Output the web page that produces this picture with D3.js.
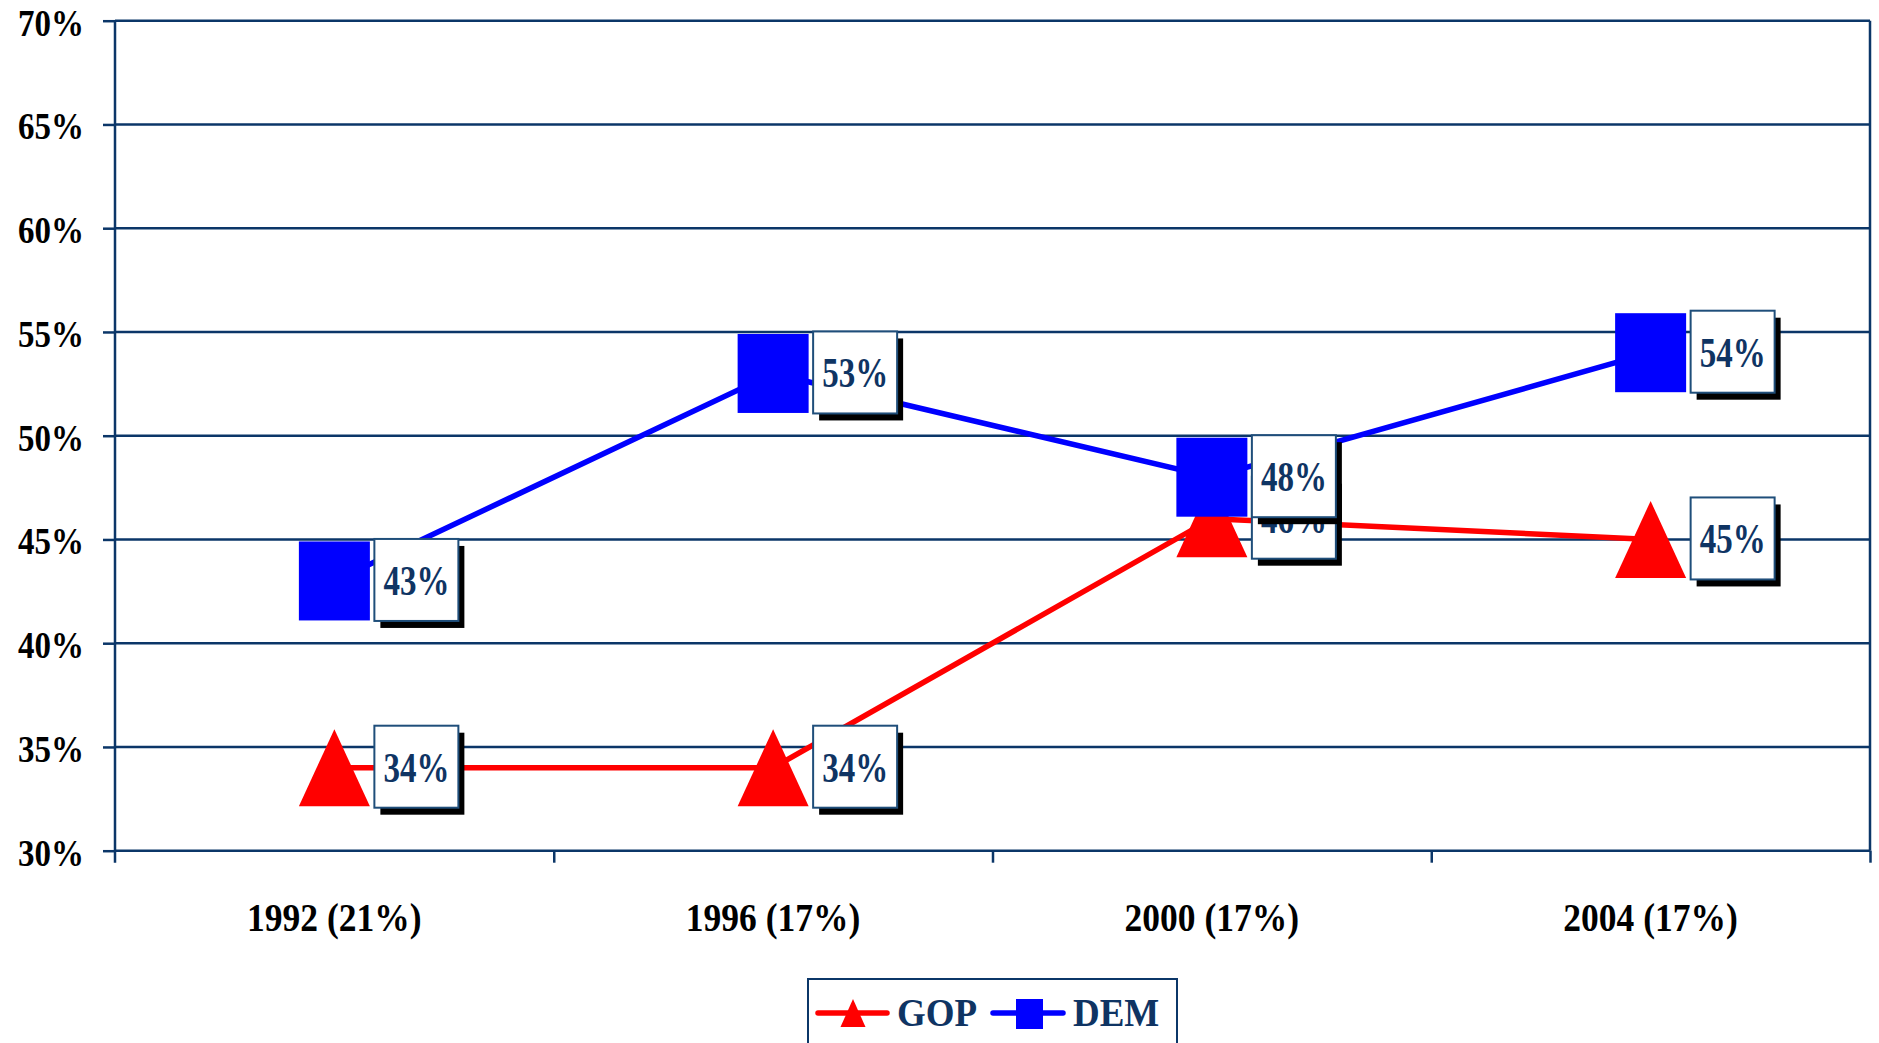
<!DOCTYPE html>
<html>
<head>
<meta charset="utf-8">
<script src="https://cdn.jsdelivr.net/npm/d3@7"></script>
<style>
  html, body { margin: 0; padding: 0; background: #fff; overflow: hidden; }
  text { font-family: "Liberation Serif", "Times New Roman", serif; font-weight: bold; }
</style>
</head>
<body>
<div id="chart"></div>
<script>
// chart values
const years = ["1992 (21%)", "1996 (17%)", "2000 (17%)", "2004 (17%)"];
const gop = [34, 34, 46, 45];
const dem = [43, 53, 48, 54];
const yTicks = [30, 35, 40, 45, 50, 55, 60, 65, 70];

const width = 1879, height = 1043;
const plotLeft = 115, plotRight = 1870, plotTop = 20.7, plotBottom = 850.7;
const navy = "#0b3668";
const labelColor = "#0f3463";

const svg = d3.select("#chart").append("svg")
    .attr("width", width)
    .attr("height", height);

const x = d3.scaleBand().domain(years).range([plotLeft, plotRight]);
const xEdge = d3.scaleLinear().domain([0, years.length]).range([plotLeft, plotRight]);
const y = d3.scaleLinear().domain([30, 70]).range([plotBottom, plotTop]);

// gridlines + right border
svg.append("g")
    .selectAll("line")
    .data(yTicks)
    .enter().append("line")
    .attr("x1", plotLeft).attr("x2", plotRight)
    .attr("y1", d => y(d)).attr("y2", d => y(d))
    .attr("stroke", navy).attr("stroke-width", 2.5);

svg.append("line")
    .attr("x1", plotRight).attr("x2", plotRight)
    .attr("y1", y(70)).attr("y2", y(30))
    .attr("stroke", navy).attr("stroke-width", 2.5);

// left axis (ticks only, labels drawn separately)
const yAxis = svg.append("g")
    .attr("transform", `translate(${plotLeft},0)`)
    .call(d3.axisLeft(y).tickValues(yTicks).tickSize(12).tickFormat(""));
yAxis.select(".domain").attr("stroke", navy).attr("stroke-width", 2.5)
    .attr("d", `M0,${y(70)}V${y(30) + 12}`);
yAxis.selectAll(".tick line").attr("stroke", navy).attr("stroke-width", 2.5);

// bottom axis, ticks at category edges
const xAxis = svg.append("g")
    .attr("transform", `translate(0,${plotBottom})`)
    .call(d3.axisBottom(xEdge).tickValues(d3.range(1, years.length + 1)).tickSize(12).tickFormat(""));
xAxis.select(".domain").remove();
xAxis.selectAll(".tick line").attr("stroke", navy).attr("stroke-width", 2.5);

// y labels
svg.append("g")
    .selectAll("text")
    .data(yTicks)
    .enter().append("text")
    .attr("transform", d => `translate(84,${y(d) + 15}) scale(1,1.12)`)
    .attr("text-anchor", "end")
    .attr("font-size", 33)
    .attr("fill", "#000")
    .text(d => d + "%");

// x labels
svg.append("g")
    .selectAll("text")
    .data(years)
    .enter().append("text")
    .attr("transform", d => `translate(${x(d) + x.bandwidth() / 2},931) scale(1,1.12)`)
    .attr("text-anchor", "middle")
    .attr("font-size", 35.5)
    .attr("fill", "#000")
    .text(d => d);

const cx = (d, i) => x(years[i]) + x.bandwidth() / 2;
const line = d3.line().x((d, i) => cx(d, i)).y(d => y(d));

const triPath = "M0,-38.5L35.5,38.5L-35.5,38.5Z";

// GOP
svg.append("path")
    .datum(gop)
    .attr("d", line)
    .attr("fill", "none")
    .attr("stroke", "#ff0000")
    .attr("stroke-width", 5.5);

svg.append("g")
    .selectAll("path")
    .data(gop)
    .enter().append("path")
    .attr("transform", (d, i) => `translate(${cx(d, i)},${y(d)})`)
    .attr("d", triPath)
    .attr("fill", "#ff0000");

// DEM
svg.append("path")
    .datum(dem)
    .attr("d", line)
    .attr("fill", "none")
    .attr("stroke", "#0000ff")
    .attr("stroke-width", 5.5);

svg.append("g")
    .selectAll("rect")
    .data(dem)
    .enter().append("rect")
    .attr("x", (d, i) => cx(d, i) - 35.5)
    .attr("y", d => y(d) - 39.5)
    .attr("width", 71)
    .attr("height", 79)
    .attr("fill", "#0000ff");

// data label boxes
function drawLabels(values) {
    const g = svg.append("g")
        .selectAll("g")
        .data(values)
        .enter().append("g")
        .attr("transform", (d, i) => `translate(${cx(d, i) + 40},${y(d) - 42})`);
    g.append("rect")
        .attr("x", 6).attr("y", 7)
        .attr("width", 84).attr("height", 82)
        .attr("fill", "#000");
    g.append("rect")
        .attr("width", 84).attr("height", 82)
        .attr("fill", "#fff")
        .attr("stroke", "#1f4e7a")
        .attr("stroke-width", 2);
    g.append("text")
        .attr("transform", "translate(42,56) scale(1,1.3)")
        .attr("text-anchor", "middle")
        .attr("font-size", 33)
        .attr("fill", labelColor)
        .text(d => d + "%");
}
drawLabels(gop);
drawLabels(dem);

// legend
const legend = svg.append("g").attr("transform", "translate(808,979)");
legend.append("rect")
    .attr("width", 369).attr("height", 90)
    .attr("fill", "#fff")
    .attr("stroke", navy).attr("stroke-width", 2);
const ly = 34;
legend.append("line")
    .attr("x1", 10).attr("x2", 79).attr("y1", ly).attr("y2", ly)
    .attr("stroke", "#ff0000").attr("stroke-width", 5.5).attr("stroke-linecap", "round");
legend.append("path")
    .attr("transform", `translate(45,${ly})`)
    .attr("d", "M0,-14L12.5,14L-12.5,14Z")
    .attr("fill", "#ff0000");
legend.append("text")
    .attr("transform", `translate(89,${ly + 13}) scale(1,1.1)`)
    .attr("font-size", 37)
    .attr("fill", labelColor)
    .text("GOP");
legend.append("line")
    .attr("x1", 185).attr("x2", 255).attr("y1", ly).attr("y2", ly)
    .attr("stroke", "#0000ff").attr("stroke-width", 5.5).attr("stroke-linecap", "round");
legend.append("rect")
    .attr("x", 208).attr("y", ly - 14).attr("width", 27).attr("height", 30)
    .attr("fill", "#0000ff");
legend.append("text")
    .attr("transform", `translate(265,${ly + 13}) scale(1,1.1)`)
    .attr("font-size", 37)
    .attr("fill", labelColor)
    .text("DEM");
</script>
</body>
</html>
